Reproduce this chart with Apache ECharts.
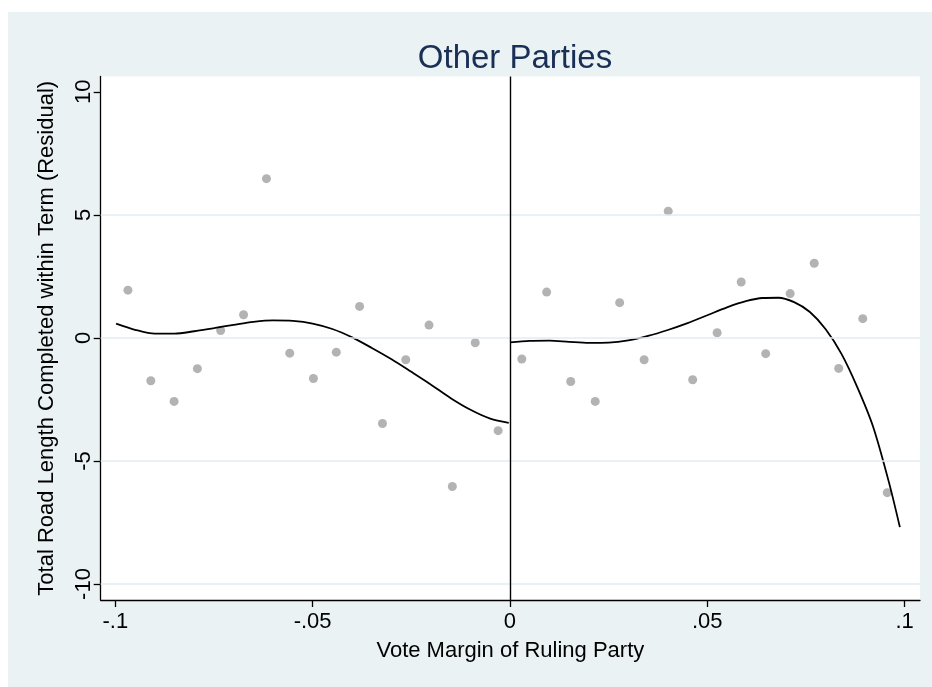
<!DOCTYPE html>
<html>
<head>
<meta charset="utf-8">
<script src="https://cdn.jsdelivr.net/npm/echarts@6/dist/echarts.min.js"></script>
<style>
  html, body { margin: 0; padding: 0; background: #ffffff; }
  #wrap { position: relative; width: 932px; height: 687px; background: #ffffff; }
  #chart { position: absolute; left: 8px; top: 12px; width: 924px; height: 675px; }
</style>
</head>
<body>
<div id="wrap"><div id="chart"></div></div>
<script>
// ---- Data ----
const titleText = 'Other Parties';
const xTitle = 'Vote Margin of Ruling Party';
const yTitle = 'Total Road Length Completed within Term (Residual)';

const xTickValues = [-0.1, -0.05, 0, 0.05, 0.1];
const xTickLabels = ['-.1', '-.05', '0', '.05', '.1'];
const yTickValues = [-10, -5, 0, 5, 10];
const yTickLabels = ['-10', '-5', '0', '5', '10'];
const yGridValues = [-10, -5, 0, 5];

// binned means, left of cutoff
const leftBinX = [-0.0968, -0.0910, -0.0851, -0.0792, -0.0733, -0.0675, -0.0617, -0.0558, -0.0498,
                  -0.0440, -0.0381, -0.0323, -0.0264, -0.0205, -0.0146, -0.0088, -0.0030];
const leftBinY = [1.94, -1.74, -2.58, -1.25, 0.30, 0.94, 6.47, -0.62, -1.65,
                  -0.58, 1.28, -3.48, -0.89, 0.52, -6.04, -0.20, -3.77];

// binned means, right of cutoff
const rightBinX = [0.0030, 0.0093, 0.0154, 0.0216, 0.0278, 0.0340, 0.0401, 0.0463,
                   0.0525, 0.0586, 0.0648, 0.0710, 0.0771, 0.0833, 0.0894, 0.0956];
const rightBinY = [-0.86, 1.86, -1.77, -2.58, 1.43, -0.89, 5.15, -1.70,
                   0.21, 2.27, -0.64, 1.80, 3.03, -1.24, 0.78, -6.29];

// fitted polynomial, left side
const leftFitX = [-0.0998, -0.095, -0.090, -0.085, -0.080, -0.075, -0.070, -0.065, -0.060, -0.055, -0.050,
                  -0.045, -0.040, -0.035, -0.030, -0.025, -0.020, -0.015, -0.010, -0.005, -0.0003];
const leftFitY = [0.58, 0.33, 0.17, 0.17, 0.27, 0.40, 0.53, 0.65, 0.71, 0.69, 0.58,
                  0.36, 0.02, -0.41, -0.87, -1.38, -1.90, -2.45, -2.92, -3.28, -3.45];

// fitted polynomial, right side
const rightFitX = [0.0000, 0.005, 0.010, 0.015, 0.020, 0.025, 0.030, 0.035, 0.040, 0.045, 0.050, 0.055,
                   0.060, 0.064, 0.068, 0.072, 0.076, 0.080, 0.084, 0.088, 0.092, 0.096, 0.0988];
const rightFitY = [-0.18, -0.12, -0.11, -0.16, -0.20, -0.19, -0.10, 0.08, 0.32, 0.60, 0.92, 1.24,
                   1.50, 1.62, 1.63, 1.45, 1.05, 0.35, -0.65, -2.00, -3.60, -5.85, -7.69];

// ---- Build chart ----
const zip = (xs, ys) => xs.map((x, i) => [x, ys[i]]);
const labelFor = (vals, labels) => v => {
  for (let i = 0; i < vals.length; i++) if (Math.abs(vals[i] - v) < 1e-9) return labels[i];
  return '';
};

const FONT = '"Liberation Sans", Arial, Helvetica, sans-serif';
const chart = echarts.init(document.getElementById('chart'), null, { renderer: 'canvas' });

chart.setOption({
  backgroundColor: '#EAF2F3',
  animation: false,
  title: {
    text: titleText,
    left: 502,
    textAlign: 'center',
    top: 25,
    textStyle: { color: '#1A2F55', fontSize: 33, fontWeight: 'normal', fontFamily: FONT }
  },
  grid: {
    left: 92.7, right: 12, top: 64.5, bottom: 87,
    show: true, backgroundColor: '#ffffff', borderWidth: 0
  },
  xAxis: {
    type: 'value',
    min: -0.1037, max: 0.1039,
    name: xTitle,
    nameLocation: 'middle',
    nameGap: 40,
    nameTextStyle: { color: '#000', fontSize: 22, fontFamily: FONT },
    axisLine: { show: true, onZero: false, lineStyle: { color: '#000', width: 1.3 } },
    axisTick: { show: true, inside: false, length: 7, customValues: xTickValues, lineStyle: { color: '#000', width: 1.3 } },
    axisLabel: { customValues: xTickValues, formatter: labelFor(xTickValues, xTickLabels), color: '#000', fontSize: 22, fontFamily: FONT, margin: 11 },
    splitLine: { show: false }
  },
  yAxis: {
    type: 'value',
    min: -10.65, max: 10.62,
    name: yTitle,
    nameLocation: 'middle',
    nameGap: 43,
    nameTextStyle: { color: '#000', fontSize: 22, fontFamily: FONT },
    axisLine: { show: true, onZero: false, lineStyle: { color: '#000', width: 1.3 } },
    axisTick: { show: true, inside: false, length: 7, customValues: yTickValues, lineStyle: { color: '#000', width: 1.3 } },
    axisLabel: { customValues: yTickValues, formatter: labelFor(yTickValues, yTickLabels), rotate: 90, color: '#000', fontSize: 22, fontFamily: FONT, margin: 6 },
    splitLine: { show: false }
  },
  series: [
    {
      name: 'grid',
      type: 'line',
      data: [],
      silent: true,
      z: 1,
      markLine: {
        silent: true,
        symbol: ['none', 'none'],
        label: { show: false },
        lineStyle: { color: '#E3EDF0', width: 1.5, type: 'solid' },
        data: yGridValues.map(v => ({ yAxis: v }))
      }
    },
    {
      name: 'cutoff',
      type: 'line',
      data: [],
      silent: true,
      z: 2,
      markLine: {
        silent: true,
        symbol: ['none', 'none'],
        label: { show: false },
        lineStyle: { color: '#000', width: 1.4, type: 'solid' },
        data: [{ xAxis: 0 }]
      }
    },
    {
      name: 'left bins', type: 'scatter', data: zip(leftBinX, leftBinY),
      symbol: 'circle', symbolSize: 9, itemStyle: { color: '#A0A0A0' }, z: 3
    },
    {
      name: 'right bins', type: 'scatter', data: zip(rightBinX, rightBinY),
      symbol: 'circle', symbolSize: 9, itemStyle: { color: '#A0A0A0' }, z: 3
    },
    {
      name: 'left fit', type: 'line', data: zip(leftFitX, leftFitY), smooth: 0.3,
      showSymbol: false, symbol: 'none', lineStyle: { color: '#000', width: 1.8 }, z: 4
    },
    {
      name: 'right fit', type: 'line', data: zip(rightFitX, rightFitY), smooth: 0.3,
      showSymbol: false, symbol: 'none', lineStyle: { color: '#000', width: 1.8 }, z: 4
    }
  ]
});
</script>
</body>
</html>
